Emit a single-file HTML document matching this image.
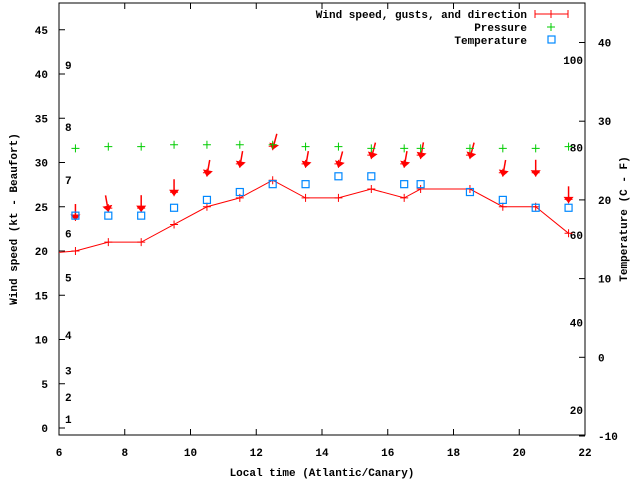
<!DOCTYPE html>
<html><head><meta charset="utf-8"><style>
body{margin:0;background:#fff}
svg{display:block}
text{font-family:"Liberation Mono",monospace;font-size:11px;font-weight:bold;fill:#000}
</style></head><body>
<svg id="chart" width="640" height="480" xmlns="http://www.w3.org/2000/svg"></svg>
<script>
const hours=[6.5,7.5,8.5,9.5,10.5,11.5,12.5,13.5,14.5,15.5,16.5,17,18.5,19.5,20.5,21.5];
const windSpeed=[20,21,21,23,25,26,28,26,26,27,26,27,27,25,25,22];
const gusts=[23.5,24.5,24.5,26.3,28.5,29.5,31.5,29.5,29.5,30.5,29.5,30.5,30.5,28.5,28.5,25.5];
const windDir=[0,350,0,0,10,10,15,10,15,15,10,10,15,10,0,0];
const pressure=[31.6,31.8,31.8,32,32,32,32,31.8,31.8,31.6,31.6,31.6,31.6,31.6,31.6,31.8];
const temperature=[18,18,18,19,20,21,22,22,23,23,22,22,21,20,19,19];
const xTicks=[6,8,10,12,14,16,18,20,22];
const yTicks=[0,5,10,15,20,25,30,35,40,45];
const y2Ticks=[-10,0,10,20,30,40];
const fLabels=[20,40,60,80,100];
const beaufort=[1,2,3,4,5,6,7,8,9];
const beaufortKt=[1,3.5,6.5,10.5,17,22,28,34,41];

const L=59,R=585,T=3,B=435;
const X=h=>L+(h-6)*(R-L)/16;
const Y=v=>428-v*8.85;
const Y2=c=>436-(c+10)*7.87;
const YF=f=>Y2((f-32)*5/9);
const svg=document.getElementById('chart');
const NS='http://www.w3.org/2000/svg';
function mk(tag,attrs,parent){const e=document.createElementNS(NS,tag);for(const k in attrs)e.setAttribute(k,attrs[k]);(parent||svg).appendChild(e);return e;}
function txt(x,y,s,anchor,parent){const t=mk('text',{x:x,y:y,'text-anchor':anchor||'start'},parent);t.textContent=s;return t;}

const frame=mk('rect',{x:L,y:T,width:R-L,height:B-T,fill:'none',stroke:'#000','stroke-width':1});



const gx=mk('g',{});


xTicks.forEach(h=>{
  mk('line',{x1:X(h),x2:X(h),y1:B,y2:B-6,stroke:'#000'},gx);
  mk('line',{x1:X(h),x2:X(h),y1:T,y2:T+6,stroke:'#000'},gx);
  const t=txt(X(h),B+21,String(h),'middle',gx);
  
  
});
const gy=mk('g',{});


yTicks.forEach(v=>{
  mk('line',{x1:L,x2:L+6,y1:Y(v),y2:Y(v),stroke:'#000'},gy);
  const t=txt(L-11,Y(v)+4,String(v),'end',gy);
  
  
});
const gy2=mk('g',{});


y2Ticks.forEach(c=>{
  mk('line',{x1:R,x2:R-6,y1:Y2(c),y2:Y2(c),stroke:'#000'},gy2);
  const t=txt(R+13,Y2(c)+4,String(c),'start',gy2);
  
  
});
fLabels.forEach(f=>{
  const t=txt(R-2,YF(f)+4,String(f),'end',gy2);
  
  
});
beaufort.forEach((b,i)=>{
  const t=txt(65,Y(beaufortKt[i])+4,String(b),'start');
  
  
});

let t=txt(322,476,'Local time (Atlantic/Canary)','middle');


t=txt(0,0,'Wind speed (kt - Beaufort)','middle');
t.setAttribute('transform','translate(17,219) rotate(-90)');


t=txt(0,0,'Temperature (C - F)','middle');
t.setAttribute('transform','translate(627,219) rotate(-90)');



const defs=mk('defs',{});
const cp=mk('clipPath',{id:'pc'},defs);
mk('rect',{x:L,y:T,width:R-L,height:B-T},cp);
const plot=mk('g',{'clip-path':'url(#pc)'});



const slope0=(windSpeed[1]-windSpeed[0])/(hours[1]-hours[0]);
let d='M'+X(6)+','+Y(windSpeed[0]-slope0*(hours[0]-6)*0.3);
hours.forEach((h,i)=>{d+=' L'+X(h)+','+Y(windSpeed[i]);});
const wl=mk('path',{d:d,fill:'none',stroke:'#f00','stroke-width':1},plot);


hours.forEach((h,i)=>{
  const p=mk('path',{d:`M${X(h)-4},${Y(windSpeed[i])}h8M${X(h)},${Y(windSpeed[i])-4}v8`,stroke:'#f00'},plot);
  
  
});
hours.forEach((h,i)=>{
  const hx=X(h),hy=Y(gusts[i]);
  const a=windDir[i]*Math.PI/180;
  const g=mk('g',{},plot);
  
  
  mk('line',{x1:hx+Math.sin(a)*16,y1:hy-Math.cos(a)*16,x2:hx,y2:hy,stroke:'#f00','stroke-width':1.5},g);
  mk('path',{d:`M${hx-4},${hy-5}L${hx+4},${hy-5}L${hx},${hy}Z`,fill:'#f00',stroke:'#f00',transform:`rotate(${windDir[i]} ${hx} ${hy})`},g);
  mk('path',{d:`M${hx-4},${hy-3}h8M${hx},${hy-7}v8`,stroke:'#f00'},g);
});
hours.forEach((h,i)=>{
  const p=mk('path',{d:`M${X(h)-4},${Y(pressure[i])}h8M${X(h)},${Y(pressure[i])-4}v8`,stroke:'#0c0'},plot);
  
  
});
hours.forEach((h,i)=>{
  const r=mk('rect',{x:X(h)-3.5,y:Y2(temperature[i])-3.5,width:7,height:7,fill:'none',stroke:'#08f','stroke-width':1.2},plot);
  
  
});

const lg=mk('g',{});


const e1=mk('g',{},lg);


txt(527,18,'Wind speed, gusts, and direction','end',e1);
mk('path',{d:'M535,14h33M535,10v8M568,10v8M551,10v8',stroke:'#f00'},e1);
const e2=mk('g',{},lg);


txt(527,31,'Pressure','end',e2);
mk('path',{d:'M547,27h8M551,23v8',stroke:'#0c0'},e2);
const e3=mk('g',{},lg);


txt(527,44,'Temperature','end',e3);
mk('rect',{x:548,y:36,width:7,height:7,fill:'none',stroke:'#08f','stroke-width':1.2},e3);
</script>
</body></html>
